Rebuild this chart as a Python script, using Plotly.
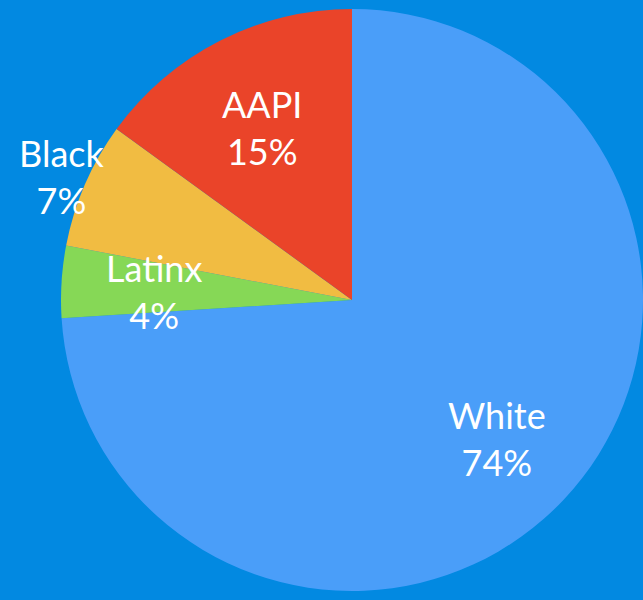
import plotly.graph_objects as go

labels = ["White", "Latinx", "Black", "AAPI"]
values = [74, 4, 7, 15]
colors = ["#4A9EF9", "#86D856", "#F1BC42", "#EA4429"]
# label centre positions in pixels (x, y from top)
label_px = [(497, 438), (154, 291), (62, 177), (262, 127)]

W, H = 643, 600
total = sum(values)

fig = go.Figure(go.Pie(
    labels=labels,
    values=values,
    sort=False,
    direction="clockwise",
    rotation=0,
    marker=dict(colors=colors, line=dict(width=0)),
    textinfo="none",
    hoverinfo="label+percent",
    showlegend=False,
    domain=dict(x=[61 / W, 1], y=[0, 1]),
))

for lab, val, (px, py) in zip(labels, values, label_px):
    fig.add_annotation(
        x=px / W, y=1 - py / H, xref="paper", yref="paper",
        text=f"{lab}<br>{round(100 * val / total)}%",
        showarrow=False,
        font=dict(family="Lato", size=36, color="white"),
        xanchor="center", yanchor="middle",
    )

fig.update_layout(
    width=W, height=H,
    margin=dict(l=0, r=0, t=0, b=0),
    paper_bgcolor="#0289E1",
    plot_bgcolor="#0289E1",
)

fig.write_html(
    "out.html",
    config={"displayModeBar": False},
    post_script="document.body.style.margin='0';document.body.style.overflow='hidden';document.body.style.background='#0289E1';",
)
